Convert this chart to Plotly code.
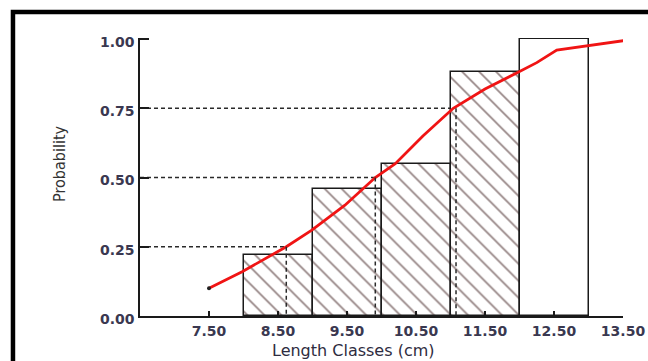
import plotly.graph_objects as go

# Length classes (bin centres, 1 cm wide) and cumulative relative frequency
class_centres = [8.5, 9.5, 10.5, 11.5, 12.5]
cum_freq = [0.22, 0.46, 0.55, 0.88, 1.00]
bar_patterns = ["\\", "\\", "\\", "\\", ""]

# Fitted cumulative (logistic-type) curve
curve_len = [7.50, 7.98, 8.62, 8.99, 9.47, 9.91, 10.20, 10.60, 11.04, 11.50, 11.98, 12.25, 12.54, 12.99, 13.53]
curve_prob = [0.10, 0.16, 0.25, 0.31, 0.40, 0.50, 0.55, 0.65, 0.75, 0.82, 0.88, 0.915, 0.96, 0.975, 0.995]

# Quartile lengths L25, L50, L75
quart_prob = [0.25, 0.50, 0.75]
quart_len = [8.62, 9.91, 11.08]

x_ticks = [7.5, 8.5, 9.5, 10.5, 11.5, 12.5, 13.5]
x_ticktext = ["7.50", "8.50", "9.50", "10.50", "11.50", "12.50", "13.50"]
y_ticks = [0.0, 0.25, 0.5, 0.75, 1.0]
y_ticktext = ["0.00", "0.25", "0.50", "0.75", "1.00"]

X_MIN, X_MAX = 6.5, 13.5
Y_MIN, Y_MAX = 0.0, 1.004
tick_font = dict(family="DejaVu Sans", size=14, color="#3a3850", weight="bold")

fig = go.Figure()

fig.add_trace(go.Bar(
    x=class_centres, y=cum_freq, width=1.0,
    marker=dict(
        color="white",
        line=dict(color="#1a1a1a", width=1.5),
        pattern=dict(shape=bar_patterns, fgcolor="#2a0808", bgcolor="white",
                     size=12, solidity=0.14),
    ),
    cliponaxis=False, showlegend=False, hoverinfo="skip",
))

fig.add_trace(go.Scatter(
    x=curve_len, y=curve_prob, mode="lines",
    line=dict(color="#f01414", width=2.8),
    cliponaxis=False, showlegend=False, hoverinfo="skip",
))
fig.add_trace(go.Scatter(
    x=curve_len[:1], y=curve_prob[:1], mode="markers",
    marker=dict(color="#222", size=4),
    cliponaxis=False, showlegend=False, hoverinfo="skip",
))

shapes = []
for p, L in zip(quart_prob, quart_len):
    # horizontal guide from the probability axis to the curve
    shapes.append(dict(type="line", xref="x", yref="y", x0=X_MIN, x1=L, y0=p, y1=p,
                       line=dict(color="#2a2a2a", width=1.5, dash="4px,3px"), layer="below"))
    # vertical guide from the curve down to the length axis
    shapes.append(dict(type="line", xref="x", yref="y", x0=L, x1=L, y0=p, y1=0,
                       line=dict(color="#2a2a2a", width=1.5, dash="4px,3px"), layer="above"))

# outer black frame
shapes.append(dict(type="rect", xref="paper", yref="paper",
                   x0=-0.263, x1=1.10, y0=-0.22, y1=1.0935,
                   line=dict(color="black", width=4.5), fillcolor="rgba(0,0,0,0)"))

fig.update_layout(
    width=648, height=361,
    margin=dict(l=140, r=25, t=38, b=45, autoexpand=False),
    paper_bgcolor="white", plot_bgcolor="white",
    bargap=0, shapes=shapes,
    xaxis=dict(
        range=[X_MIN, X_MAX], tickvals=x_ticks, ticktext=x_ticktext,
        showline=True, linecolor="#1a1a1a", linewidth=1.5,
        ticks="inside", ticklen=5, tickwidth=1.5, tickcolor="#1a1a1a",
        showgrid=False, zeroline=False, tickfont=tick_font,
        ticklabelstandoff=1, automargin=False,
    ),
    yaxis=dict(
        range=[Y_MIN, Y_MAX], tickvals=y_ticks, ticktext=y_ticktext,
        showline=True, linecolor="#1a1a1a", linewidth=1.5,
        ticks="inside", ticklen=9, tickwidth=1.5, tickcolor="#1a1a1a",
        showgrid=False, zeroline=False, tickfont=tick_font,
        ticklabelshift=3, ticklabelstandoff=1, automargin=False,
    ),
    annotations=[
        dict(text="Length Classes (cm)", xref="x", yref="paper", x=9.6, y=-0.124,
             xanchor="center", yanchor="middle", showarrow=False,
             font=dict(family="DejaVu Sans", size=16, color="#2e2c40")),
        dict(text="Probability", xref="paper", yref="paper", x=-0.168, y=0.55,
             xanchor="center", yanchor="middle", textangle=-90, showarrow=False,
             font=dict(family="Liberation Sans Narrow, DejaVu Sans Condensed, Arial Narrow, Liberation Sans, sans-serif",
                       size=16, color="#333333")),
    ],
)

fig.write_html("out.html")
